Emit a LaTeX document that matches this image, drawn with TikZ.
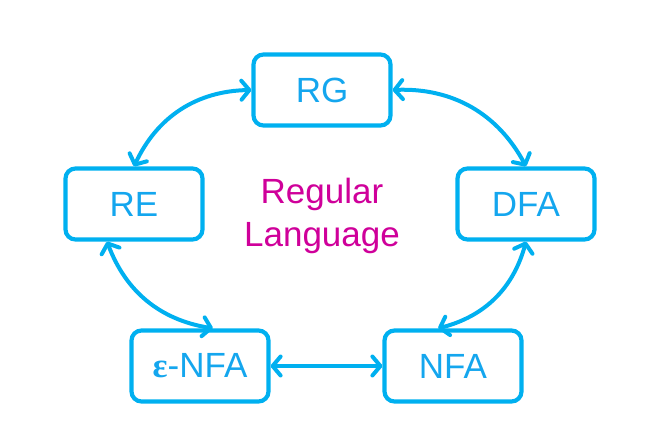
\documentclass[tikz,border=0pt]{standalone}
\usepackage{fontspec}
\setmainfont{Liberation Sans}
\newfontfamily\greekfont{Liberation Serif}
\usetikzlibrary{arrows.meta}
\definecolor{skyblue}{HTML}{00B0F0}
\definecolor{langtext}{HTML}{14A6EE}
\definecolor{regmagenta}{HTML}{CF009A}

\begin{document}
\begin{tikzpicture}[x=1pt, y=-1pt,
    langbox/.style={draw=skyblue, line width=4.2pt, rounded corners=10pt,
      minimum width=137pt, minimum height=71pt, inner sep=0pt,
      text=langtext, font=\fontsize{35}{42}\selectfont},
    conv/.style={skyblue, line width=4pt, line cap=round,
      {Straight Barb[round, length=8pt, width=19pt]}-{Straight Barb[round, length=8pt, width=19pt]}}]
  \useasboundingbox (0,0) rectangle (663,447);

  % the five formalisms
  \node[langbox] (rg)   at (322,90)  {RG};
  \node[langbox] (re)   at (134,204) {RE};
  \node[langbox] (dfa)  at (526,204) {DFA};
  \node[langbox] (enfa) at (200,366) {{\greekfont\bfseries ε}-NFA};
  \node[langbox] (nfa)  at (453,366) {NFA};

  \node[text=regmagenta, align=center, font=\fontsize{35}{43}\selectfont] (lang) at (322,216) {Regular\\Language};

  % conversions
  \draw[conv] (re.north) to[bend left=32] (rg.west);
  \draw[conv] (rg.east) to[bend left=32] (dfa.north);
  \draw[conv] (dfa.south) to[bend left=30] ([xshift=-15pt]nfa.north);
  \draw[conv] ([xshift=-27pt]re.south) to[bend right=30] ([xshift=13pt]enfa.north);
  \draw[conv] (enfa.east) -- (nfa.west);
\end{tikzpicture}
\end{document}
